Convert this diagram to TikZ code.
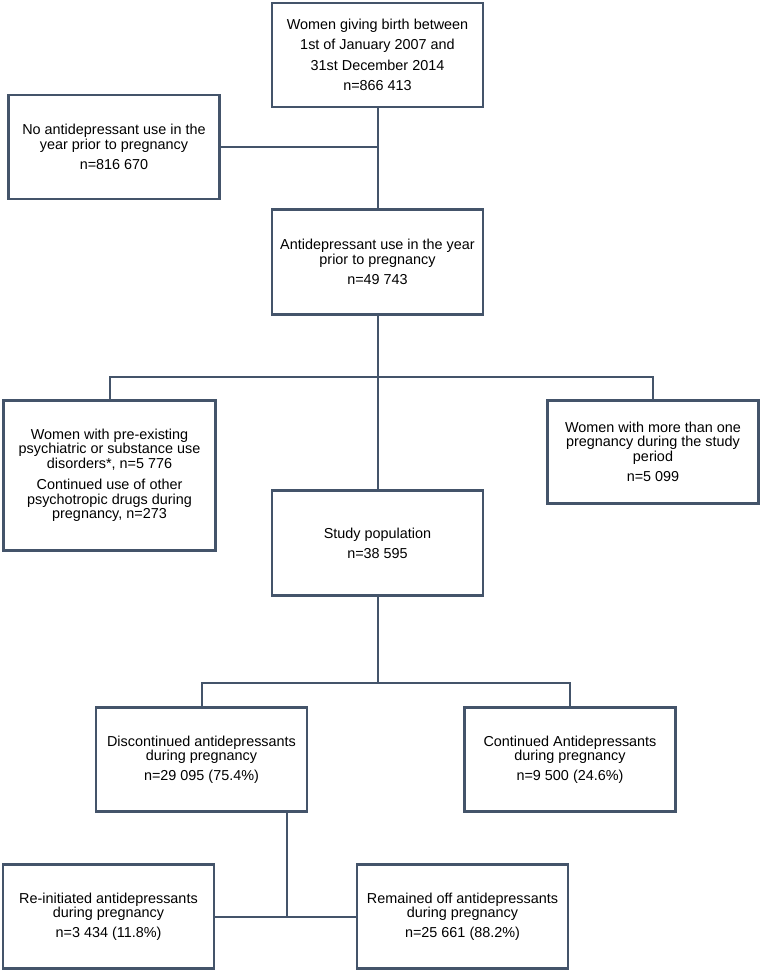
\documentclass[tikz,border=0pt]{standalone}
\usepackage{fontspec}
\setmainfont{Liberation Sans}
\definecolor{edgecol}{HTML}{44546A}
\begin{document}
\begin{tikzpicture}[x=1pt,y=-1pt,
  box/.style={draw=edgecol, line width=2.6pt, minimum width=211pt, minimum height=104pt,
    align=center, inner sep=0pt, font=\fontsize{14.4}{14.5}\selectfont},
  link/.style={draw=edgecol, line width=2pt}]
\useasboundingbox (0,0) rectangle (762,972);

\node[box, font=\fontsize{14.4}{20.5}\selectfont] (A) at (377.5,55)
  {Women giving birth between\\1st of January 2007 and\\31st December 2014\\n=866 413};
\node[box] (B) at (114,147)
  {No antidepressant use in the\\year prior to pregnancy\\[5.5pt]n=816 670};
\node[box, minimum height=105pt] (C) at (377.5,262)
  {Antidepressant use in the year\\prior to pregnancy\\[5.5pt]n=49 743};
\node[box, minimum height=150pt, minimum width=212pt] (D) at (109.5,475.5)
  {Women with pre-existing\\psychiatric or substance use\\disorders*, n=5 776\\[7pt]Continued use of other\\psychotropic drugs during\\pregnancy, n=273};
\node[box, minimum height=103pt] (E) at (653,452)
  {Women with more than one\\pregnancy during the study\\period\\[6pt]n=5 099};
\node[box, minimum height=105pt] (F) at (377.5,543)
  {Study population\\[5.5pt]n=38 595};
\node[box] (G) at (201.5,759.5)
  {Discontinued antidepressants\\during pregnancy\\[5pt]n=29 095 (75.4\%)};
\node[box] (H) at (570,759.5)
  {Continued Antidepressants\\during pregnancy\\[5pt]n=9 500 (24.6\%)};
\node[box] (I) at (108.5,916.5)
  {Re-initiated antidepressants\\during pregnancy\\[5pt]n=3 434 (11.8\%)};
\node[box] (J) at (462.5,916.5)
  {Remained off antidepressants\\during pregnancy\\[5pt]n=25 661 (88.2\%)};

\coordinate (j1) at (377.5,377);
\coordinate (j2) at (377.5,683);
\coordinate (j3) at (287,917);

\draw[link] (A.south) -- (C.north);
\draw[link] (B.east) -- (B.east -| A.south);
\draw[link] (C.south) -- (F.north);
\draw[link] (D.north) -- (D.north |- j1) -- (E.north |- j1) -- (E.north);
\draw[link] (F.south) -- (j2);
\draw[link] (G.north) -- (G.north |- j2) -- (H.north |- j2) -- (H.north);
\draw[link] (G.south -| j3) -- (j3);
\draw[link] (I.east) -- (J.west);
\end{tikzpicture}
\end{document}
